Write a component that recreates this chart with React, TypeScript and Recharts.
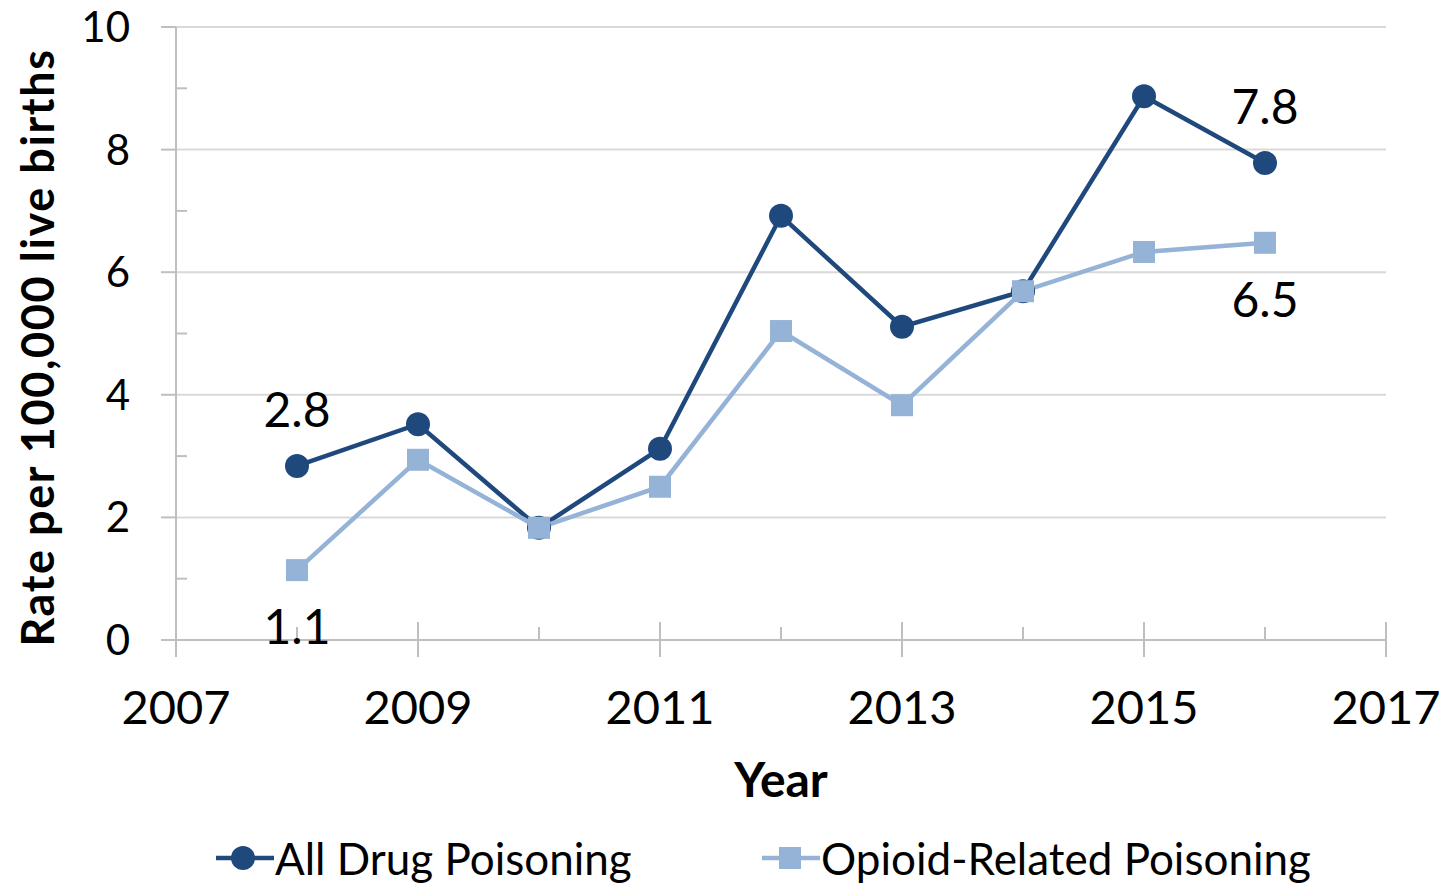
import React from 'react';
import { LineChart, Line, XAxis, YAxis, CartesianGrid, Legend, LabelList } from 'recharts';

const years = [2008, 2009, 2010, 2011, 2012, 2013, 2014, 2015, 2016];
const allDrug = [2.84, 3.52, 1.83, 3.12, 6.92, 5.11, 5.69, 8.87, 7.78];
const opioid = [1.14, 2.94, 1.83, 2.5, 5.04, 3.83, 5.69, 6.33, 6.48];
const xTicks = [2007, 2008, 2009, 2010, 2011, 2012, 2013, 2014, 2015, 2016, 2017];
const yTicks = [0, 1, 2, 3, 4, 5, 6, 7, 8, 9, 10];
const gridValues = [0, 2, 4, 6, 8, 10];
const labelIdx = [0, years.length - 1];

const data = years.map((year, i) => ({ year, all: allDrug[i], opioid: opioid[i] }));

const DARK = '#1f497d';
const LIGHT = '#95b3d7';
const AXIS = '#bfbfbf';
const FONT = 'Lato, "Open Sans", sans-serif';

const XTick = (props: any) => {
  const { x, y, payload } = props;
  const major = payload.value % 2 === 1;
  return (
    <g>
      <line x1={x} x2={x} y1={major ? y - 18 : y - 13} y2={major ? y + 17 : y} stroke={AXIS} strokeWidth={2} />
      {major && (
        <text x={x} y={y + 84} textAnchor="middle" fontSize={47} fontFamily={FONT} fill="#000">
          {payload.value}
        </text>
      )}
    </g>
  );
};

const YTick = (props: any) => {
  const { x, y, payload } = props;
  const major = payload.value % 2 === 0;
  return (
    <g>
      {major ? (
        <line x1={x - 15} x2={x} y1={y} y2={y} stroke={AXIS} strokeWidth={2} />
      ) : (
        <line x1={x} x2={x + 11} y1={y} y2={y} stroke={AXIS} strokeWidth={2} />
      )}
      {major && (
        <text x={x - 46} y={y + 15} textAnchor="end" fontSize={42} fontFamily={FONT} fill="#000">
          {payload.value}
        </text>
      )}
    </g>
  );
};

const SquareDot = (props: any) => {
  const { cx, cy, index } = props;
  return <rect key={`sq-${index}`} x={cx - 11} y={cy - 11} width={22} height={22} fill={LIGHT} />;
};

const makeLabel = (dy: number) => (props: any) => {
  const { x, y, value, index } = props;
  if (!labelIdx.includes(index)) return null;
  return (
    <text x={x} y={y + dy} textAnchor="middle" fontSize={48} fontFamily={FONT} fill="#000">
      {Number(value).toFixed(1)}
    </text>
  );
};

const LegendContent = () => (
  <div style={{ height: 50, display: 'flex', alignItems: 'center', fontFamily: FONT, fontSize: 44, color: '#000' }}>
    <div style={{ display: 'flex', alignItems: 'center', marginLeft: 216 }}>
      <svg width={58} height={30}>
        <line x1={0} x2={58} y1={15} y2={15} stroke={DARK} strokeWidth={4.5} />
        <circle cx={27} cy={15} r={12} fill={DARK} />
      </svg>
      <span style={{ marginLeft: 1 }}>All Drug Poisoning</span>
    </div>
    <div style={{ display: 'flex', alignItems: 'center', position: 'absolute', left: 762 }}>
      <svg width={58} height={30}>
        <line x1={0} x2={58} y1={15} y2={15} stroke={LIGHT} strokeWidth={4.5} />
        <rect x={17} y={4} width={22} height={22} fill={LIGHT} />
      </svg>
      <span style={{ marginLeft: 1 }}>Opioid-Related Poisoning</span>
    </div>
  </div>
);

export default function App() {
  return (
    <div style={{ position: 'absolute', left: 0, top: 0, background: '#fff' }}>
      <LineChart width={1442} height={883} data={data} margin={{ top: 27, right: 56, left: 0, bottom: 0 }}>
        <CartesianGrid horizontal vertical={false} horizontalValues={gridValues} stroke="#d9d9d9" strokeWidth={2} />
        <XAxis
          dataKey="year"
          type="number"
          domain={[2007, 2017]}
          ticks={xTicks}
          interval={0}
          height={193}
          tickSize={0}
          tickMargin={0}
          tickLine={false}
          axisLine={{ stroke: AXIS, strokeWidth: 2 }}
          tick={<XTick />}
          label={{
            value: 'Year',
            content: ({ viewBox }: any) => (
              <text x={viewBox.x + viewBox.width / 2} y={viewBox.y + 157} textAnchor="middle" fontSize={48} fontWeight="bold" fontFamily={FONT} fill="#000">
                Year
              </text>
            ),
          }}
        />
        <YAxis
          type="number"
          domain={[0, 10]}
          ticks={yTicks}
          interval={0}
          width={176}
          tickSize={0}
          tickMargin={0}
          tickLine={false}
          axisLine={{ stroke: AXIS, strokeWidth: 2 }}
          tick={<YTick />}
          label={{
            value: 'Rate per 100,000 live births',
            content: ({ viewBox }: any) => {
              const cx = viewBox.x + 37;
              const cy = viewBox.y + viewBox.height / 2 + 14;
              return (
                <text x={cx} y={cy} transform={`rotate(-90 ${cx} ${cy})`} textAnchor="middle" dominantBaseline="central" fontSize={45} fontWeight="bold" letterSpacing={1.6} fontFamily={FONT} fill="#000">
                  Rate per 100,000 live births
                </text>
              );
            },
          }}
        />
        <Legend verticalAlign="bottom" content={<LegendContent />} wrapperStyle={{ left: 0, width: 1442 }} />
        <Line
          dataKey="all"
          name="All Drug Poisoning"
          stroke={DARK}
          strokeWidth={4.5}
          dot={{ r: 12, fill: DARK, stroke: DARK, strokeWidth: 0 }}
          activeDot={false}
          isAnimationActive={false}
        >
          <LabelList dataKey="all" content={makeLabel(-39)} />
        </Line>
        <Line
          dataKey="opioid"
          name="Opioid-Related Poisoning"
          stroke={LIGHT}
          strokeWidth={4.5}
          dot={<SquareDot />}
          activeDot={false}
          isAnimationActive={false}
        >
          <LabelList dataKey="opioid" content={makeLabel(74)} />
        </Line>
      </LineChart>
    </div>
  );
}
